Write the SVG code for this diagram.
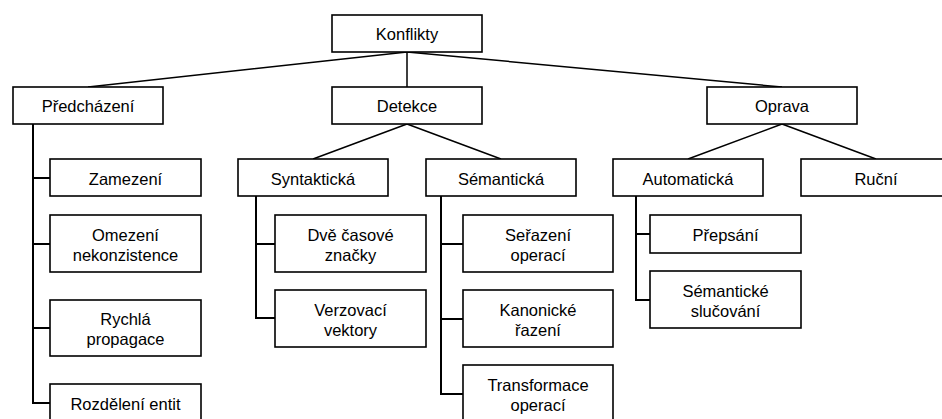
<svg xmlns="http://www.w3.org/2000/svg" width="942" height="419" viewBox="0 0 942 419">
  <style>
    .box { fill: #ffffff; stroke: #000000; stroke-width: 1.6; }
    .lbl { font-family: "Liberation Sans", Arial, sans-serif; font-size: 16.5px; fill: #000000; text-anchor: middle; }
    .edge { fill: none; stroke: #000000; stroke-width: 1.5; }
    .trunk { fill: none; stroke: #000000; stroke-width: 2; }
  </style>
  <rect width="942" height="419" fill="#ffffff"/>

  <g id="connectors">
    <!-- top level -->
    <path class="edge" d="M407 52 L88 87 M407 52 L407 87 M407 52 L782 87"/>
    <!-- Detekce / Oprava -->
    <path class="edge" d="M407 124 L313 159 M407 124 L501 159"/>
    <path class="edge" d="M782 124 L688 159 M782 124 L876 159"/>
    <!-- Předcházení list -->
    <path class="trunk" d="M33 124 V403 H50 M33 178 H50 M33 244 H50 M33 328 H50"/>
    <!-- Syntaktická list -->
    <path class="trunk" d="M256 196 V318 H275 M256 244 H275"/>
    <!-- Sémantická list -->
    <path class="trunk" d="M441 196 V394 H463 M441 244 H463 M441 319 H463"/>
    <!-- Automatická list -->
    <path class="trunk" d="M636 196 V300 H650 M636 234 H650"/>
  </g>

  <g id="konflikty"><rect class="box" x="332" y="15" width="150" height="37"/><text class="lbl" x="407" y="40">Konflikty</text></g>

  <g id="predchazeni"><rect class="box" x="13" y="87" width="150" height="37"/><text class="lbl" x="88" y="112">Předcházení</text></g>
  <g id="detekce"><rect class="box" x="332" y="87" width="150" height="37"/><text class="lbl" x="407" y="112">Detekce</text></g>
  <g id="oprava"><rect class="box" x="707" y="87" width="150" height="37"/><text class="lbl" x="782" y="112">Oprava</text></g>

  <g id="zamezeni"><rect class="box" x="50" y="159" width="151" height="37"/><text class="lbl" x="125.5" y="184.5">Zamezení</text></g>
  <g id="omezeni"><rect class="box" x="50" y="215" width="151" height="57"/><text class="lbl" x="125.5" y="240.5">Omezení</text><text class="lbl" x="125.5" y="260.5">nekonzistence</text></g>
  <g id="rychla"><rect class="box" x="50" y="300" width="151" height="56"/><text class="lbl" x="125.5" y="325">Rychlá</text><text class="lbl" x="125.5" y="345">propagace</text></g>
  <g id="rozdeleni"><rect class="box" x="50" y="384" width="151" height="57"/><text class="lbl" x="125.5" y="409.5">Rozdělení entit</text></g>

  <g id="syntakticka"><rect class="box" x="238" y="159" width="150" height="37"/><text class="lbl" x="313" y="184.5">Syntaktická</text></g>
  <g id="dve-casove"><rect class="box" x="275" y="215" width="151" height="57"/><text class="lbl" x="350.5" y="240.5">Dvě časové</text><text class="lbl" x="350.5" y="260.5">značky</text></g>
  <g id="verzovaci"><rect class="box" x="275" y="290" width="151" height="57"/><text class="lbl" x="350.5" y="315.5">Verzovací</text><text class="lbl" x="350.5" y="335.5">vektory</text></g>

  <g id="semanticka"><rect class="box" x="426" y="159" width="150" height="37"/><text class="lbl" x="501" y="184.5">Sémantická</text></g>
  <g id="serazeni"><rect class="box" x="463" y="215" width="150" height="57"/><text class="lbl" x="538" y="240.5">Seřazení</text><text class="lbl" x="538" y="260.5">operací</text></g>
  <g id="kanonicke"><rect class="box" x="463" y="290" width="150" height="57"/><text class="lbl" x="538" y="315.5">Kanonické</text><text class="lbl" x="538" y="335.5">řazení</text></g>
  <g id="transformace"><rect class="box" x="463" y="365" width="150" height="57"/><text class="lbl" x="538" y="390.5">Transformace</text><text class="lbl" x="538" y="410.5">operací</text></g>

  <g id="automaticka"><rect class="box" x="613" y="159" width="150" height="37"/><text class="lbl" x="688" y="184.5">Automatická</text></g>
  <g id="prepsani"><rect class="box" x="650" y="215" width="151" height="38"/><text class="lbl" x="725.5" y="240.5">Přepsání</text></g>
  <g id="semanticke-slucovani"><rect class="box" x="650" y="271" width="151" height="57"/><text class="lbl" x="725.5" y="296.5">Sémantické</text><text class="lbl" x="725.5" y="316.5">slučování</text></g>

  <g id="rucni"><rect class="box" x="801" y="159" width="150" height="37"/><text class="lbl" x="876" y="184.5">Ruční</text></g>
</svg>
